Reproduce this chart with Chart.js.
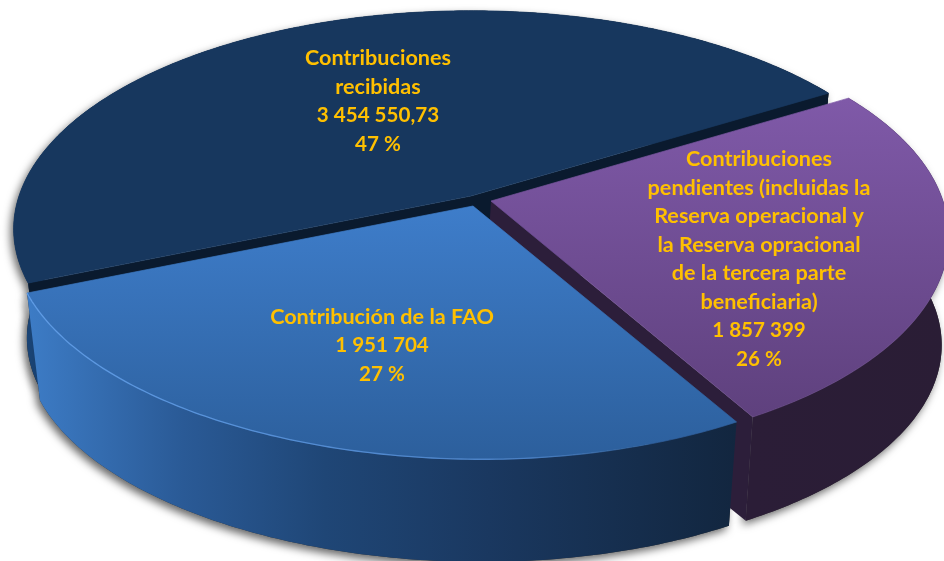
<!DOCTYPE html>
<html>
<head>
<meta charset="utf-8">
<style>
html,body{margin:0;padding:0;background:#fff;overflow:hidden}
canvas{display:block}
</style>
<script src="https://cdn.jsdelivr.net/npm/chart.js@4"></script>
</head>
<body>
<canvas id="c" width="944" height="561"></canvas>
<script>
const categories = ["Contribuciones recibidas", "Contribuciones pendientes", "Contribución de la FAO"];
const seriesValues = [3454550.73, 1857399, 1951704];
const labelNavy = ["Contribuciones", "recibidas", "3 454 550,73", "47 %"];
const labelPurple = ["Contribuciones", "pendientes (incluidas la", "Reserva operacional y", "la Reserva opracional", "de la tercera parte", "beneficiaria)", "1 857 399", "26 %"];
const labelBlue = ["Contribución de la FAO", "1 951 704", "27 %"];
const sliceLabels = [labelNavy, labelPurple, labelBlue];

const RX = 452, RY = 214, K = 0.155, DEPTH = 110, BOTTOM_SCALE = 0.971, SKEW = 1.4e-4;
const sliceStyle = [
  {apex:[471,196], sx:1, top:["#17375e","#17375e"], chord:"#0a1a2e", faces:[0,1], botX:[BOTTOM_SCALE,0],
   wall:[[0,"#1d4a7e"],[0.03,"#184070"],[0.5,"#0f2a4c"],[1,"#0a1a2e"]], label:[378,58], lh:28.7},
  {apex:[491,201], sx:1, top:["#7f59a8","#5f417e"], topY:[100,414], chord:"#2c1e3a", faces:[1], botX:[1,-7],
   wall:[[0,"#2b1d37"],[1,"#2a1d35"]], label:[759,159], lh:28.6},
  {apex:[473,206], sx:1.007, top:["#3e7dca","#2c5f9c"], topY:[207,460], chord:"#0a1a2e", faces:[], rim:true, botX:[BOTTOM_SCALE,0],
   wall:[[0,"#3d7cc6"],[0.22,"#2a5a96"],[0.42,"#1f4676"],[0.65,"#1a3860"],[1,"#12263f"]], label:[382,317], lh:28.5}
];

function project(s, angle, bottom) {
  const u = Math.cos(angle), v = Math.sin(angle), w = 1 - K * v;
  const Y = RY * v / w;
  const X = s.sx * RX * u / w + (Y > 0 ? SKEW * Y * Y : 0);
  return bottom
    ? [s.apex[0] + X * s.botX[0] + s.botX[1], s.apex[1] + Y * BOTTOM_SCALE + DEPTH]
    : [s.apex[0] + X, s.apex[1] + Y];
}
function samples(a0, a1) {
  const n = Math.max(2, Math.ceil((a1 - a0) / (Math.PI / 240)));
  const out = [];
  for (let i = 0; i <= n; i++) out.push(a0 + (a1 - a0) * i / n);
  return out;
}
function wallPath(ctx, s, a0, a1) {
  const as = samples(a0, a1);
  ctx.beginPath();
  as.forEach((a, i) => { const p = project(s, a, false); i ? ctx.lineTo(p[0], p[1]) : ctx.moveTo(p[0], p[1]); });
  as.slice().reverse().forEach(a => { const p = project(s, a, true); ctx.lineTo(p[0], p[1]); });
  ctx.closePath();
}
function topPath(ctx, s, a0, a1) {
  ctx.beginPath();
  ctx.moveTo(s.apex[0], s.apex[1]);
  samples(a0, a1).forEach(a => { const p = project(s, a, false); ctx.lineTo(p[0], p[1]); });
  ctx.closePath();
}
function chordFace(ctx, s, a) {
  const t = project(s, a, false), b = project(s, a, true);
  ctx.beginPath();
  ctx.moveTo(s.apex[0], s.apex[1]);
  ctx.lineTo(t[0], t[1]);
  ctx.lineTo(b[0], b[1]);
  ctx.lineTo(s.apex[0] + s.botX[1], s.apex[1] + DEPTH);
  ctx.closePath();
}

const pie3d = {
  id: "pie3d",
  beforeDatasetsDraw(chart) {
    const ctx = chart.ctx;
    const arcs = chart.getDatasetMeta(0).data;
    ctx.save();
    // soft cast shadow below the extruded walls
    ctx.shadowColor = "rgba(0,0,0,0.6)";
    ctx.shadowBlur = 9;
    ctx.shadowOffsetX = -3;
    ctx.shadowOffsetY = 4;
    ctx.fillStyle = "#333";
    arcs.forEach((arc, i) => {
      wallPath(ctx, sliceStyle[i], arc.startAngle, arc.endAngle);
      ctx.fill();
    });
    ctx.shadowColor = "transparent";
    ctx.shadowBlur = 0; ctx.shadowOffsetX = 0; ctx.shadowOffsetY = 0;

    arcs.forEach((arc, i) => {
      const s = sliceStyle[i];
      const a0 = arc.startAngle, a1 = arc.endAngle;
      // outer wall
      const pts = samples(a0, a1).map(a => project(s, a, false)[0]);
      const xmin = Math.min(...pts), xmax = Math.max(...pts);
      const g = ctx.createLinearGradient(xmin, 0, xmax, 0);
      s.wall.forEach(st => g.addColorStop(st[0], st[1]));
      ctx.fillStyle = g;
      wallPath(ctx, s, a0, a1);
      ctx.fill();
      // cut faces turned towards the viewer
      ctx.fillStyle = s.chord;
      s.faces.forEach(f => { chordFace(ctx, s, f === 0 ? a0 : a1); ctx.fill(); });
      // top face
      const yr = s.topY || [0, 561];
      const tg = ctx.createLinearGradient(0, yr[0], 0, yr[1]);
      tg.addColorStop(0, s.top[0]); tg.addColorStop(1, s.top[1]);
      ctx.fillStyle = tg;
      ctx.strokeStyle = tg;
      ctx.lineWidth = 0.7;
      ctx.lineJoin = "round";
      topPath(ctx, s, a0, a1);
      ctx.fill();
      ctx.stroke();
      if (s.rim) {
        const rg = ctx.createLinearGradient(xmin, 0, xmax, 0);
        rg.addColorStop(0, "#5f9ce6");
        rg.addColorStop(0.7, "#4a80c4");
        rg.addColorStop(0.85, "rgba(74,128,196,0)");
        ctx.strokeStyle = rg; ctx.lineWidth = 1.3;
        ctx.beginPath();
        samples(a0, a1).forEach((a, j) => { const p = project(s, a, false); j ? ctx.lineTo(p[0], p[1]) : ctx.moveTo(p[0], p[1]); });
        ctx.stroke();
      }
    });
    // labels
    ctx.fillStyle = "#ffc000";
    ctx.textAlign = "center";
    ctx.textBaseline = "middle";
    sliceLabels.forEach((lines, i) => {
      const s = sliceStyle[i];
      lines.forEach((t, j) => {
        ctx.font = /\d/.test(t) ? "bold 20.6px Lato" : "bold 21.6px Lato";
        ctx.fillText(t, s.label[0], s.label[1] + j * s.lh);
      });
    });
    ctx.restore();
    return false;
  }
};

new Chart(document.getElementById("c"), {
  type: "pie",
  data: { labels: categories, datasets: [{ data: seriesValues, borderWidth: 0 }] },
  options: {
    responsive: false,
    animation: false,
    rotation: 247.5,
    plugins: { legend: { display: false }, tooltip: { enabled: false }, title: { display: false } }
  },
  plugins: [pie3d]
});
</script>
</body>
</html>
